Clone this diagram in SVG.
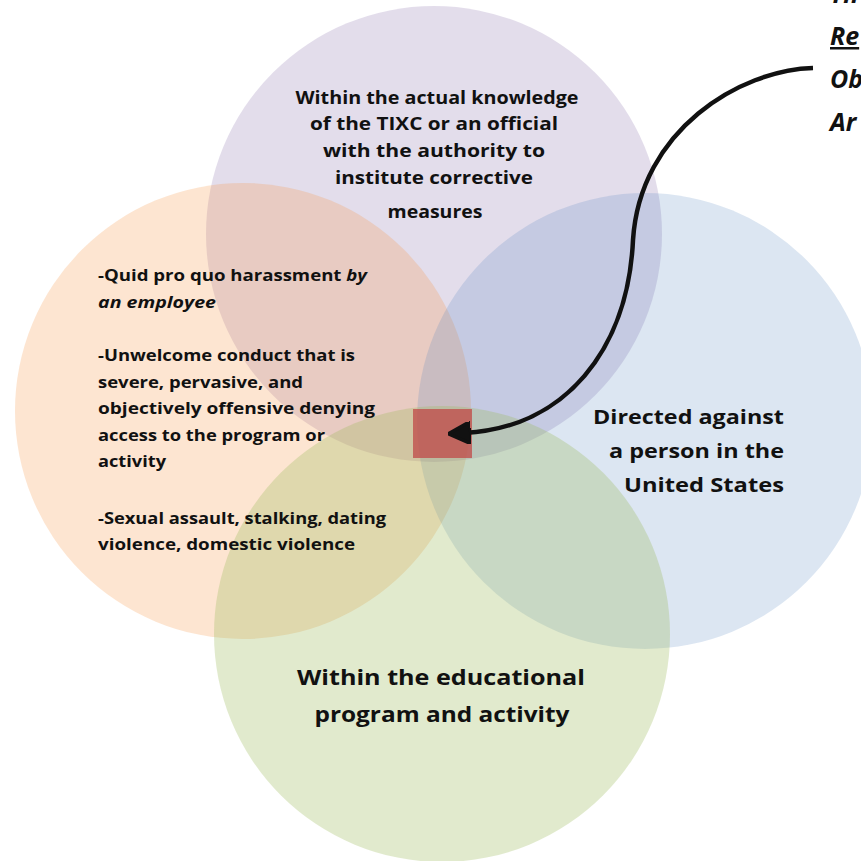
<svg xmlns="http://www.w3.org/2000/svg" width="861" height="861" viewBox="0 0 861 861">
<style>
.t{font-family:"Open Sans",Lato,sans-serif;font-weight:bold;fill:#111}
.c{text-anchor:middle}
.r{text-anchor:end}
.tr{font-family:"Open Sans",Lato,sans-serif;font-weight:bold;font-style:italic;font-size:25px;fill:#111}
</style>
<defs>
<marker id="ah" viewBox="0 0 10 10" refX="3" refY="5" markerWidth="5" markerHeight="5" orient="auto" markerUnits="strokeWidth">
<path d="M0,0 L10,5 L0,10 Z" fill="#111" stroke="#111" stroke-width="1.5" stroke-linejoin="round"/>
</marker>
</defs>
<rect width="861" height="861" fill="#ffffff"/>
<g id="purple"><circle cx="434" cy="234" r="228" fill="#8064A2" fill-opacity="0.22"/></g>
<g id="orange"><circle cx="243" cy="411" r="228" fill="#F79646" fill-opacity="0.25"/></g>
<g id="blue"><circle cx="645" cy="421" r="228" fill="#4F81BD" fill-opacity="0.2"/></g>
<g id="green"><circle cx="442" cy="634" r="228" fill="#9BBB59" fill-opacity="0.3"/></g>
<g id="center"><rect x="413" y="409" width="59" height="49" fill="#C0504D" fill-opacity="0.8"/></g>
<g id="connectors">
<path d="M 813 68 C 740 70, 640 130, 633 240 C 628 350, 565 428, 464 433" fill="none" stroke="#111" stroke-width="4.5" marker-end="url(#ah)"/>
</g>
<g id="purple-text" font-size="18">
<text class="t c" x="437" y="104" textLength="283" lengthAdjust="spacingAndGlyphs">Within the actual knowledge</text>
<text class="t c" x="434" y="130" textLength="248" lengthAdjust="spacingAndGlyphs">of the TIXC or an official</text>
<text class="t c" x="434" y="157" textLength="222" lengthAdjust="spacingAndGlyphs">with the authority to</text>
<text class="t c" x="434" y="184" textLength="198" lengthAdjust="spacingAndGlyphs">institute corrective</text>
<text class="t c" x="435" y="218" textLength="95" lengthAdjust="spacingAndGlyphs">measures</text>
</g>
<g id="orange-text" font-size="16">
<text class="t" x="98" y="281" textLength="269" lengthAdjust="spacingAndGlyphs">-Quid pro quo harassment <tspan font-style="italic">by</tspan></text>
<text class="t" x="98" y="308" font-style="italic" textLength="118" lengthAdjust="spacingAndGlyphs">an employee</text>
<text class="t" x="98" y="361" textLength="257" lengthAdjust="spacingAndGlyphs">-Unwelcome conduct that is</text>
<text class="t" x="98" y="388" textLength="205" lengthAdjust="spacingAndGlyphs">severe, pervasive, and</text>
<text class="t" x="98" y="414" textLength="277" lengthAdjust="spacingAndGlyphs">objectively offensive denying</text>
<text class="t" x="98" y="441" textLength="227" lengthAdjust="spacingAndGlyphs">access to the program or</text>
<text class="t" x="98" y="467" textLength="68" lengthAdjust="spacingAndGlyphs">activity</text>
<text class="t" x="98" y="524" textLength="288" lengthAdjust="spacingAndGlyphs">-Sexual assault, stalking, dating</text>
<text class="t" x="98" y="550" textLength="257" lengthAdjust="spacingAndGlyphs">violence, domestic violence</text>
</g>
<g id="blue-text" font-size="20">
<text class="t r" x="784" y="424" textLength="191" lengthAdjust="spacingAndGlyphs">Directed against</text>
<text class="t r" x="784" y="458" textLength="175" lengthAdjust="spacingAndGlyphs">a person in the</text>
<text class="t r" x="784" y="492" textLength="160" lengthAdjust="spacingAndGlyphs">United States</text>
</g>
<g id="green-text" font-size="22">
<text class="t c" x="441" y="685" textLength="288" lengthAdjust="spacingAndGlyphs">Within the educational</text>
<text class="t c" x="442" y="722" textLength="255" lengthAdjust="spacingAndGlyphs">program and activity</text>
</g>
<g id="note">
<text class="tr" x="830" y="3">Th</text>
<text class="tr" x="830" y="45" text-decoration="underline">Re</text>
<text class="tr" x="830" y="88">Ob</text>
<text class="tr" x="830" y="131">Ar</text>
</g>
</svg>
